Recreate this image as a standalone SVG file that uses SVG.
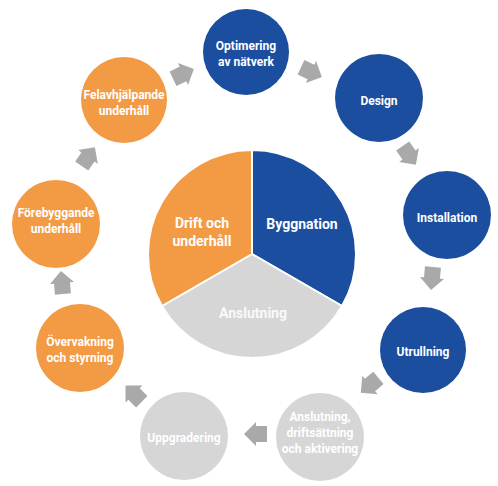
<svg xmlns="http://www.w3.org/2000/svg" width="498" height="486" viewBox="0 0 498 486">
<defs>
<style>
.blue{fill:#1B4E9F}
.orange{fill:#F39A44}
.gray{fill:#D6D6D6}
.t{font-family:Roboto,"Liberation Sans",sans-serif;font-weight:bold;fill:#fff;text-anchor:middle;font-size:12px}
.tb{font-family:Roboto,"Liberation Sans",sans-serif;font-weight:bold;fill:#fff;text-anchor:middle;font-size:14px}
.arr{fill:#A9A9A9}
</style>
<polygon id="arrow" points="-11,-8 0,-8 0,-12 12,0 0,12 0,8 -11,8"/>
</defs>
<rect width="498" height="486" fill="#fff"/>
<g id="pie">
<path class="blue" d="M252,254 L252,150 A104,104 0 0 1 342.07,306 Z" stroke="#fff" stroke-width="2"/>
<path class="gray" d="M252,254 L342.07,306 A104,104 0 0 1 161.93,306 Z" stroke="#fff" stroke-width="2"/>
<path class="orange" d="M252,254 L161.93,306 A104,104 0 0 1 252,150 Z" stroke="#fff" stroke-width="2"/>
<text class="tb" x="302" y="229">Byggnation</text>
<text class="tb" x="202" y="228">Drift och</text>
<text class="tb" x="202" y="246">underhåll</text>
<text class="tb" x="253" y="318" fill-opacity="0.9">Anslutning</text>
</g>
<g id="n-optimering"><circle class="blue" cx="246" cy="52" r="43"/><text class="t" x="246" y="50">Optimering</text><text class="t" x="246" y="66">av nätverk</text></g>
<g id="n-design"><circle class="blue" cx="379" cy="98" r="44"/><text class="t" x="379" y="105">Design</text></g>
<g id="n-installation"><circle class="blue" cx="447" cy="215" r="44"/><text class="t" x="447" y="222">Installation</text></g>
<g id="n-utrullning"><circle class="blue" cx="423" cy="350" r="43"/><text class="t" x="423" y="356">Utrullning</text></g>
<g id="n-anslutning"><circle class="gray" cx="320" cy="437" r="44"/><text class="t" x="320" y="421">Anslutning,</text><text class="t" x="320" y="437">driftsättning</text><text class="t" x="320" y="453">och aktivering</text></g>
<g id="n-uppgradering"><circle class="gray" cx="184" cy="436" r="44"/><text class="t" x="184" y="442">Uppgradering</text></g>
<g id="n-overvakning"><circle class="orange" cx="80" cy="348" r="44"/><text class="t" x="80" y="346">Övervakning</text><text class="t" x="80" y="362">och styrning</text></g>
<g id="n-forebyggande"><circle class="orange" cx="56" cy="224" r="44"/><text class="t" x="56" y="217">Förebyggande</text><text class="t" x="56" y="233">underhåll</text></g>
<g id="n-felavhjalpande"><circle class="orange" cx="124" cy="100" r="43"/><text class="t" x="124" y="99">Felavhjälpande</text><text class="t" x="124" y="115">underhåll</text></g>
<g id="connectors" class="arr">
<use href="#arrow" transform="translate(183,74) rotate(-25)"/>
<use href="#arrow" transform="translate(311,72) rotate(25)"/>
<use href="#arrow" transform="translate(409,155) rotate(55)"/>
<use href="#arrow" transform="translate(432,278) rotate(95)"/>
<use href="#arrow" transform="translate(370,385) rotate(140)"/>
<use href="#arrow" transform="translate(256,434) rotate(180)"/>
<use href="#arrow" transform="translate(134,394) rotate(-135)"/>
<use href="#arrow" transform="translate(62,283) rotate(-95)"/>
<use href="#arrow" transform="translate(88,157) rotate(-55)"/>
</g>
</svg>
